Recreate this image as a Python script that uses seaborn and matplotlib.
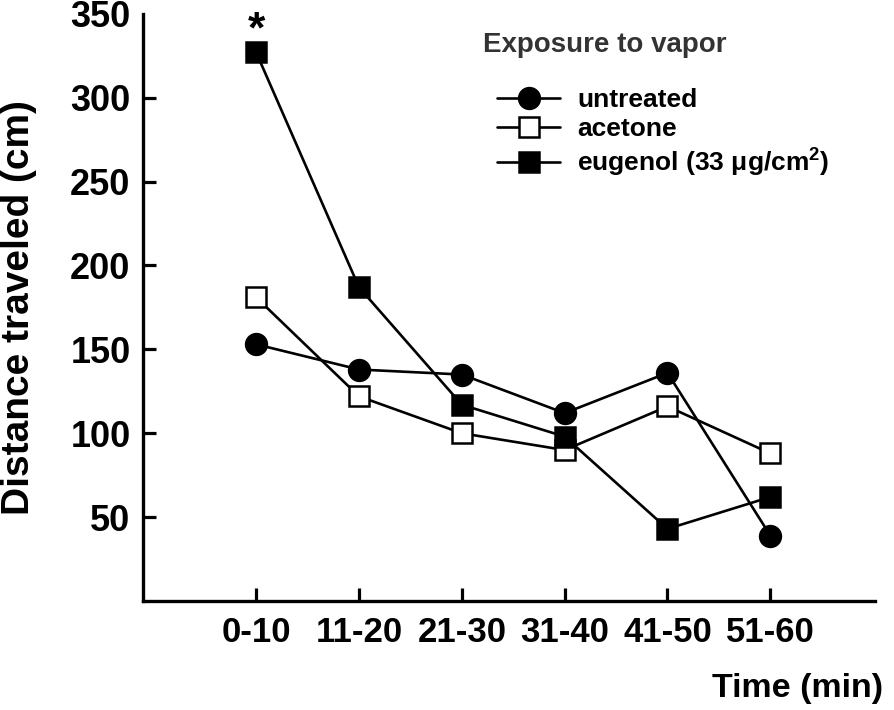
import matplotlib
matplotlib.use("Agg")
import matplotlib.pyplot as plt
import seaborn as sns
import pandas as pd

# values
times = ["0-10", "11-20", "21-30", "31-40", "41-50", "51-60"]
untreated = [153, 138, 135, 112, 136, 39]
acetone = [181, 122, 100, 90, 116, 88]
eugenol = [327, 187, 117, 98, 43, 62]
groups = ["untreated", "acetone", "eugenol (33 μg/cm$^{2}$)"]
y_ticks = [50, 100, 150, 200, 250, 300, 350]

df = pd.DataFrame({
    "time": times * 3,
    "distance": untreated + acetone + eugenol,
    "group": [g for g in groups for _ in times],
})

sns.set_theme(style="ticks")
plt.rcParams['font.family'] = ['Liberation Sans', 'DejaVu Sans']
plt.rcParams['font.weight'] = 'bold'
plt.rcParams['mathtext.fontset'] = 'custom'
plt.rcParams['mathtext.rm'] = 'Liberation Sans:bold'
plt.rcParams['mathtext.it'] = 'Liberation Sans:bold'
plt.rcParams['mathtext.bf'] = 'Liberation Sans:bold'
for k in ['text.color', 'axes.labelcolor', 'xtick.color', 'ytick.color']:
    plt.rcParams[k] = 'black'

fig = plt.figure(figsize=(8.94, 7.1), dpi=100)
ax = fig.add_axes([0.16, 0.1535, 0.819, 0.827])

marker_styles = {
    groups[0]: dict(marker='o', markerfacecolor='black'),
    groups[1]: dict(marker='s', markerfacecolor='white'),
    groups[2]: dict(marker='s', markerfacecolor='black'),
}

for g in groups:
    sub = df[df["group"] == g]
    sns.lineplot(data=sub, x="time", y="distance", ax=ax, color='black',
                 linewidth=1.9, markersize=15, markeredgecolor='black',
                 markeredgewidth=1.8, label=g, **marker_styles[g])

# significance mark above eugenol, first interval
ax.text(0, 333, "*", ha='center', va='baseline', fontsize=32, weight='bold')

ax.set_xlim(-1.1, 6.02)
ax.set_ylim(0, 350)
ax.set_yticks(y_ticks)
ax.set_xticks(range(len(times)))
ax.set_xticklabels(times)
ax.tick_params(axis='both', direction='in', length=9.5, width=2.3, color='black')
ax.tick_params(axis='y', labelsize=26, pad=9)
ax.tick_params(axis='x', labelsize=25, pad=11)
ax.yaxis.get_major_ticks()[-1].tick1line.set_visible(False)
for lab in ax.get_xticklabels() + ax.get_yticklabels():
    lab.set_fontweight('bold')

sns.despine(ax=ax)
for s in ['left', 'bottom']:
    ax.spines[s].set_linewidth(2.4)
    ax.spines[s].set_color('black')

ax.set_ylabel("Distance traveled (cm)", fontsize=28, weight='bold', labelpad=24)
ax.set_xlabel("Time (min)", fontsize=24.5, weight='bold', loc='right', labelpad=17)
ax.xaxis.get_label().set_x(1.011)

fig.text(483 / 894, 1 - 45 / 710, "Exposure to vapor", ha='left', va='center',
         fontsize=20, weight='bold', color='#333333')
leg = ax.legend(loc='upper left', bbox_to_anchor=(497 / 894, 1 - 88 / 710),
                bbox_transform=fig.transFigure, frameon=False, fontsize=19,
                handlelength=2.4, handletextpad=0.65, labelspacing=0.2,
                borderpad=0, borderaxespad=0)
for t in leg.get_texts():
    t.set_fontweight('bold')

fig.savefig("out.png", dpi=100)
